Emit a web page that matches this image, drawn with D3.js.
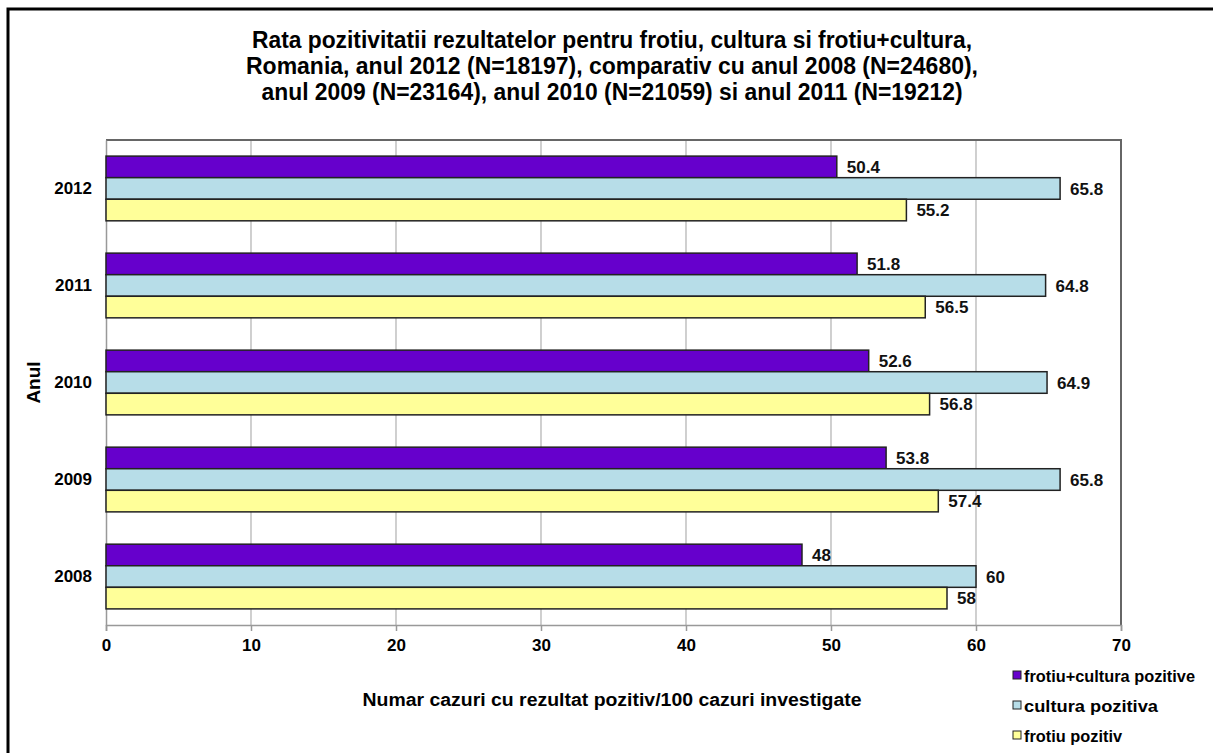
<!DOCTYPE html>
<html>
<head>
<meta charset="utf-8">
<script src="https://cdn.jsdelivr.net/npm/d3@7"></script>
<style>
  html, body { margin: 0; padding: 0; background: #fff; }
  svg { display: block; }
  .narrow { font-family: "Liberation Sans Narrow", "Arial Narrow", "Liberation Sans", Arial, sans-serif; font-weight: bold; }
  .sans { font-family: "Liberation Sans", Arial, sans-serif; font-weight: bold; }
</style>
</head>
<body>
<svg id="chart" width="1213" height="753"></svg>
<script>
// date extrase din grafic
const years = ["2012", "2011", "2010", "2009", "2008"];
const seriesNames = ["frotiu+cultura pozitive", "cultura pozitiva", "frotiu pozitiv"];
const frotiuCultura = [50.4, 51.8, 52.6, 53.8, 48];
const cultura = [65.8, 64.8, 64.9, 65.8, 60];
const frotiu = [55.2, 56.5, 56.8, 57.4, 58];
const xTicks = [0, 10, 20, 30, 40, 50, 60, 70];
const titleLines = [
  "Rata pozitivitatii rezultatelor pentru frotiu, cultura si frotiu+cultura,",
  "Romania, anul 2012 (N=18197), comparativ cu anul 2008 (N=24680),",
  "anul 2009 (N=23164), anul 2010 (N=21059) si anul 2011 (N=19212)"
];
const colors = ["#6600CC", "#B7DDE8", "#FFFF99"];

const svg = d3.select("#chart");
const W = 1213, H = 753;
const plot = { left: 106, right: 1121, top: 140, bottom: 625 };

// chenar exterior (dreapta/jos ies din imagine)
svg.append("rect")
  .attr("x", 8).attr("y", 9)
  .attr("width", W + 20).attr("height", H + 20)
  .attr("fill", "#fff").attr("stroke", "#000").attr("stroke-width", 3);

// titlu (font condensat simulat prin textLength)
const titleWidths = [720, 732, 701];
svg.append("g").selectAll("text").data(titleLines).join("text")
  .attr("class", "narrow")
  .attr("x", 612)
  .attr("y", (d, i) => 48 + i * 26)
  .attr("text-anchor", "middle")
  .attr("font-size", 23)
  .attr("textLength", (d, i) => titleWidths[i])
  .attr("lengthAdjust", "spacingAndGlyphs")
  .text(d => d);

const x = d3.scaleLinear().domain([0, 70]).range([plot.left, plot.right]);
const y = d3.scaleBand().domain(years).range([plot.top, plot.bottom]).paddingInner(0.333).paddingOuter(0.166);
const ySub = d3.scaleBand().domain(d3.range(3)).range([0, y.bandwidth()]);

// grila verticala
svg.append("g").selectAll("line").data(xTicks.slice(1, -1)).join("line")
  .attr("x1", d => x(d)).attr("x2", d => x(d))
  .attr("y1", plot.top).attr("y2", plot.bottom)
  .attr("stroke", "#b0b0b0").attr("stroke-width", 1.2);

// cadru zona grafic
svg.append("path")
  .attr("d", `M${plot.left},${plot.top}H${plot.right}V${plot.bottom}`)
  .attr("fill", "none").attr("stroke", "#666").attr("stroke-width", 2);

// axa X
const xAxis = svg.append("g")
  .attr("transform", `translate(0,${plot.bottom})`)
  .call(d3.axisBottom(x).tickValues(xTicks).tickSize(6).tickPadding(8));
xAxis.select(".domain").attr("stroke", "#999").attr("stroke-width", 1.5);
xAxis.selectAll(".tick line").attr("stroke", "#999").attr("stroke-width", 1.5);
xAxis.selectAll("text").attr("class", "narrow").attr("font-size", 17).attr("fill", "#000");

// axa Y
const yAxis = svg.append("g")
  .attr("transform", `translate(${plot.left},0)`)
  .call(d3.axisLeft(y).tickSize(0).tickPadding(14));
yAxis.select(".domain").attr("stroke", "#999").attr("stroke-width", 1.5);
yAxis.selectAll("text").attr("class", "narrow").attr("font-size", 17).attr("fill", "#000");

// bare
const rows = years.map((yr, i) => ({
  year: yr,
  vals: [frotiuCultura[i], cultura[i], frotiu[i]]
}));
const groups = svg.append("g").selectAll("g").data(rows).join("g")
  .attr("transform", d => `translate(0,${y(d.year)})`);

groups.selectAll("rect").data(d => d.vals).join("rect")
  .attr("x", x(0))
  .attr("y", (d, i) => ySub(i))
  .attr("width", d => x(d) - x(0))
  .attr("height", ySub.bandwidth())
  .attr("fill", (d, i) => colors[i])
  .attr("stroke", "#222").attr("stroke-width", 1.5);

groups.selectAll("text").data(d => d.vals).join("text")
  .attr("class", "narrow")
  .attr("x", d => x(d) + 10)
  .attr("y", (d, i) => ySub(i) + ySub.bandwidth() / 2)
  .attr("dy", "0.36em")
  .attr("font-size", 17)
  .attr("fill", "#111")
  .text(d => d);

// titluri axe
svg.append("text")
  .attr("class", "sans")
  .attr("transform", `translate(40,${(plot.top + plot.bottom) / 2}) rotate(-90)`)
  .attr("text-anchor", "middle")
  .attr("font-size", 19)
  .text("Anul");

svg.append("text")
  .attr("class", "sans")
  .attr("x", 612).attr("y", 706)
  .attr("text-anchor", "middle")
  .attr("font-size", 17.5)
  .attr("textLength", 499)
  .attr("lengthAdjust", "spacingAndGlyphs")
  .text("Numar cazuri cu rezultat pozitiv/100 cazuri investigate");

// legenda
const legendWidths = [171, 134, 98];
const legend = svg.append("g").selectAll("g").data(seriesNames).join("g")
  .attr("transform", (d, i) => `translate(1013,${676 + i * 30})`);
legend.append("rect")
  .attr("x", 0).attr("y", -5).attr("width", 8).attr("height", 8)
  .attr("fill", (d, i) => colors[i])
  .attr("stroke", "#222").attr("stroke-width", 1);
legend.append("text")
  .attr("class", "sans")
  .attr("x", 11).attr("y", 0).attr("dy", "0.36em")
  .attr("font-size", 16)
  .attr("textLength", (d, i) => legendWidths[i])
  .attr("lengthAdjust", "spacingAndGlyphs")
  .text(d => d);
</script>
</body>
</html>
